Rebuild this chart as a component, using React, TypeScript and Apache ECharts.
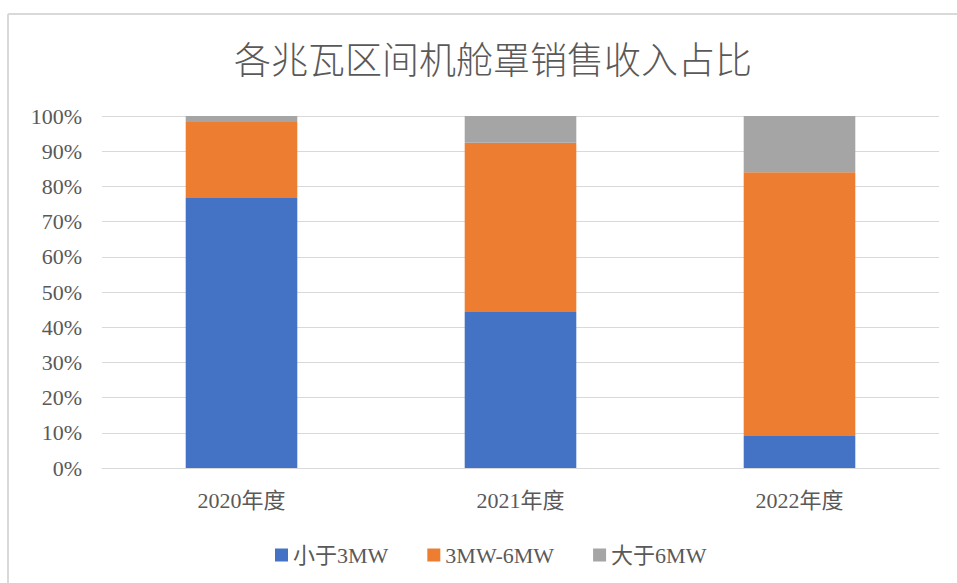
import React, { useEffect, useRef } from "react";
import * as echarts from "echarts";

const categories = ["2020年度", "2021年度", "2022年度"];
const seriesNames = ["小于3MW", "3MW-6MW", "大于6MW"];
const small = [0.767, 0.443, 0.091];
const mid = [0.216, 0.481, 0.749];
const large = [0.017, 0.076, 0.16];
const colors = ["#4472C4", "#ED7D31", "#A5A5A5"];

const FONT = "'Liberation Serif', 'Noto Sans CJK SC', serif";

export default function App() {
  const ref = useRef<HTMLDivElement>(null);
  useEffect(() => {
    if (!ref.current) return;
    const chart = echarts.init(ref.current, null, { renderer: "svg" });
    const data = [small, mid, large];
    chart.setOption({
      animation: false,
      backgroundColor: "#ffffff",
      title: {
        text: "各兆瓦区间机舱罩销售收入占比",
        left: 229,
        top: 34,
        textStyle: {
          fontFamily: "'Noto Sans CJK SC', sans-serif",
          fontWeight: 300,
          fontSize: 37,
          color: "#595959",
        },
      },
      graphic: [
        { type: "line", shape: { x1: 8, y1: 14, x2: 957, y2: 14 }, style: { stroke: "#d9d9d9", lineWidth: 2 } },
        { type: "line", shape: { x1: 8, y1: 14, x2: 8, y2: 583 }, style: { stroke: "#d9d9d9", lineWidth: 2 } },
      ],
      legend: {
        top: 539,
        left: 270,
        itemWidth: 13,
        itemHeight: 13,
        itemGap: 39,
        icon: "rect",
        textStyle: { fontFamily: FONT, fontSize: 22, color: "#595959" },
        data: seriesNames,
      },
      grid: { left: 102, right: 18, top: 116, bottom: 115 },
      xAxis: {
        type: "category",
        data: categories,
        axisLine: { lineStyle: { color: "#d9d9d9" } },
        axisTick: { show: false },
        axisLabel: { fontFamily: FONT, fontSize: 22, color: "#595959", margin: 21 },
      },
      yAxis: {
        type: "value",
        min: 0,
        max: 1,
        interval: 0.1,
        axisLine: { show: false },
        axisTick: { show: false },
        splitLine: { lineStyle: { color: "#d9d9d9" } },
        axisLabel: {
          fontFamily: FONT,
          fontSize: 22,
          color: "#595959",
          margin: 20,
          formatter: (v: number) => Math.round(v * 100) + "%",
        },
      },
      series: seriesNames.map((name, i) => ({
        name,
        type: "bar",
        stack: "total",
        barWidth: "40%",
        data: data[i],
        itemStyle: { color: colors[i] },
      })),
    });
    return () => chart.dispose();
  }, []);
  return <div ref={ref} style={{ width: 957, height: 583, position: "absolute", left: 0, top: 0 }} />;
}
